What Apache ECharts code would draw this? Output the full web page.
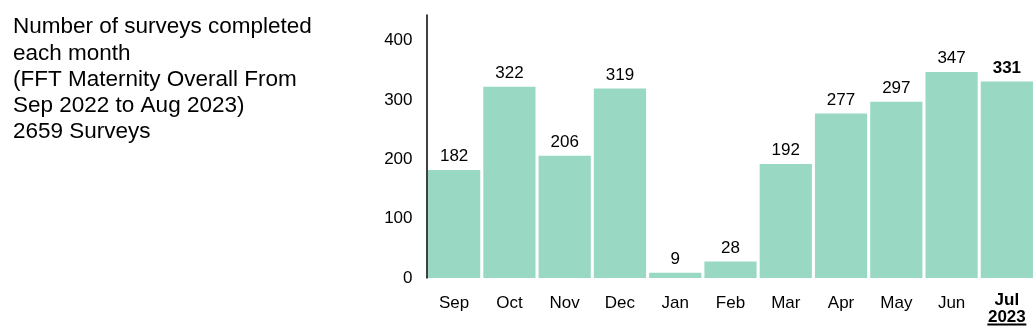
<!DOCTYPE html>
<html><head><meta charset="utf-8">
<script src="https://cdn.jsdelivr.net/npm/echarts@6/dist/echarts.min.js"></script>
<style>html,body{margin:0;padding:0;background:#fff}#c{width:1035px;height:328px}</style>
</head><body><div id="c"></div>
<script>
const months = ['Sep','Oct','Nov','Dec','Jan','Feb','Mar','Apr','May','Jun','Jul'];
const surveys = [182,322,206,319,9,28,192,277,297,347,331];
const yTicks = [0,100,200,300,400];
const titleLines = ['Number of surveys completed','each month','(FFT Maternity Overall From','Sep 2022 to Aug 2023)','2659 Surveys'];
const lastYear = '2023';

const FONT = '"Liberation Sans", Arial, sans-serif';
const last = months.length - 1;
const chart = echarts.init(document.getElementById('c'), null, {renderer:'canvas'});
chart.setOption({
  animation:false,
  textStyle:{fontFamily:FONT},
  title:{
    text: titleLines.join('\n'),
    left: 13, top: 14, padding:0,
    textStyle:{fontFamily:FONT, fontSize:22.5, fontWeight:'normal', color:'#000', lineHeight:26.2}
  },
  grid:{left:426.5, right:0.5, top:15, bottom:50, containLabel:false, outerBoundsMode:'none'},
  xAxis:{
    type:'category', data: months,
    axisLine:{show:false}, axisTick:{show:false},
    axisLabel:{
      color:'#000', fontSize:17, margin:16.5, fontFamily:FONT, interval:0,
      formatter:(v, i) => i === last ? '{j|' + v + '}\n{b|' + lastYear + '}\n{u|}' : v,
      rich:{
        j:{fontWeight:'bold', fontSize:17, color:'#000', fontFamily:FONT, lineHeight:11},
        b:{fontWeight:'bold', fontSize:17, color:'#000', fontFamily:FONT, lineHeight:18, padding:[6,0,0,0]},
        u:{width:39, height:2, backgroundColor:'#000', lineHeight:2}
      }
    }
  },
  yAxis:{
    type:'value', min:0, max:443, interval:100,
    axisLine:{show:true, lineStyle:{color:'#000', width:1.5}},
    axisTick:{show:false}, splitLine:{show:false},
    axisLabel:{color:'#000', fontSize:17, margin:14, fontFamily:FONT,
      formatter:v => yTicks.includes(v) ? String(v) : ''}
  },
  series:[{
    type:'bar',
    data: surveys.map((v,i)=> i===last ? {value:v, label:{fontWeight:'bold'}} : v),
    barCategoryGap:'5.5%',
    itemStyle:{color:'#99d9c3'},
    label:{show:true, position:'top', distance:5, color:'#000', fontSize:17, fontFamily:FONT}
  }]
});
</script></body></html>
